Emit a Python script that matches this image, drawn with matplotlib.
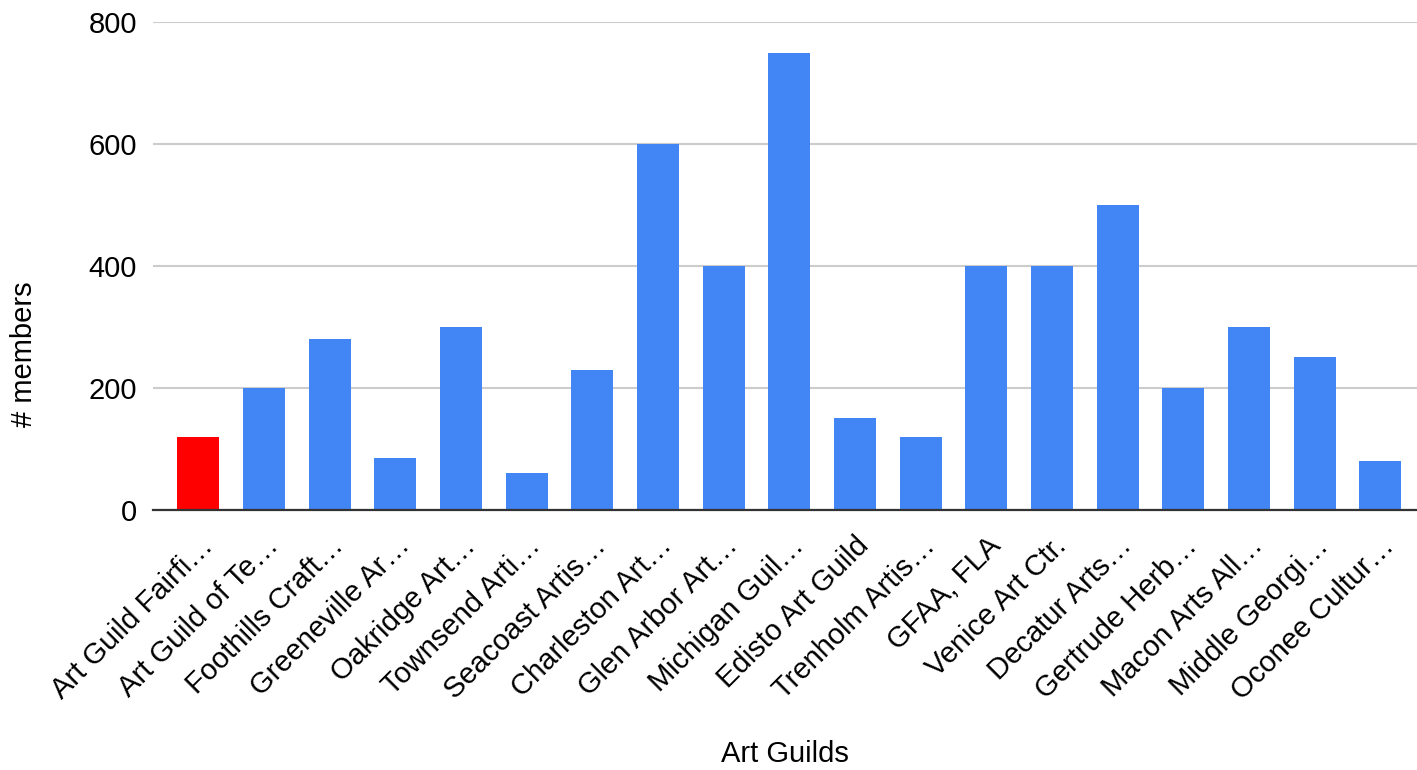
import matplotlib
matplotlib.use("Agg")
import matplotlib.pyplot as plt
import numpy as np

plt.rcParams.update({"font.family": ["Liberation Sans", "DejaVu Sans"],
                     "font.size": 21})

GUILDS = ["Art Guild Fairfi…", "Art Guild of Te…", "Foothills Craft…",
          "Greeneville Ar…", "Oakridge Art…", "Townsend Arti…",
          "Seacoast Artis…", "Charleston Art…", "Glen Arbor Art…",
          "Michigan Guil…", "Edisto Art Guild", "Trenholm Artis…",
          "GFAA, FLA", "Venice Art Ctr.", "Decatur Arts…", "Gertrude Herb…",
          "Macon Arts All…", "Middle Georgi…", "Oconee Cultur…"]
MEMBERS = [120, 200, 280, 85, 300, 60, 230, 600, 400, 750, 150, 120,
           400, 400, 500, 200, 300, 250, 80]
HIGHLIGHT = 0  # the one red bar

BLUE = "#4285f4"
RED = "#ff0000"

fig = plt.figure(figsize=(14.17, 7.70), dpi=100)
ax = fig.add_axes([0.108, 0.338, 0.892, 0.633])

xs = np.arange(len(GUILDS))
colors = [RED if i == HIGHLIGHT else BLUE for i in xs]
ax.bar(xs, MEMBERS, 0.64, color=colors, zorder=2)

ax.set_xlim(-0.69, len(GUILDS) - 1 + 0.56)
ax.set_ylim(0, 800)
ax.set_yticks([0, 200, 400, 600, 800])
ax.yaxis.grid(True, color="#cccccc", lw=1.5, zorder=0)
ax.set_axisbelow(True)
for s in ("top", "right", "left"):
    ax.spines[s].set_visible(False)
ax.spines["bottom"].set_color("#333333")
ax.spines["bottom"].set_linewidth(1.6)
ax.spines["bottom"].set_zorder(3)
ax.tick_params(axis="both", length=0, labelsize=21, colors="black")
ax.tick_params(axis="y", pad=11.5)

ax.set_xticks(xs)
ax.set_xticklabels(GUILDS, rotation=45, ha="right", rotation_mode="anchor")
for lab in ax.get_xticklabels():
    lab.set_y(-0.035)

ax.set_xlabel("Art Guilds", fontsize=21)
ax.xaxis.set_label_coords(0.5, -0.472)
fig.text(24 / 1417, 0.540, "# members", rotation=90, fontsize=21,
         ha="center", va="center")

fig.savefig("out.png", dpi=100)
